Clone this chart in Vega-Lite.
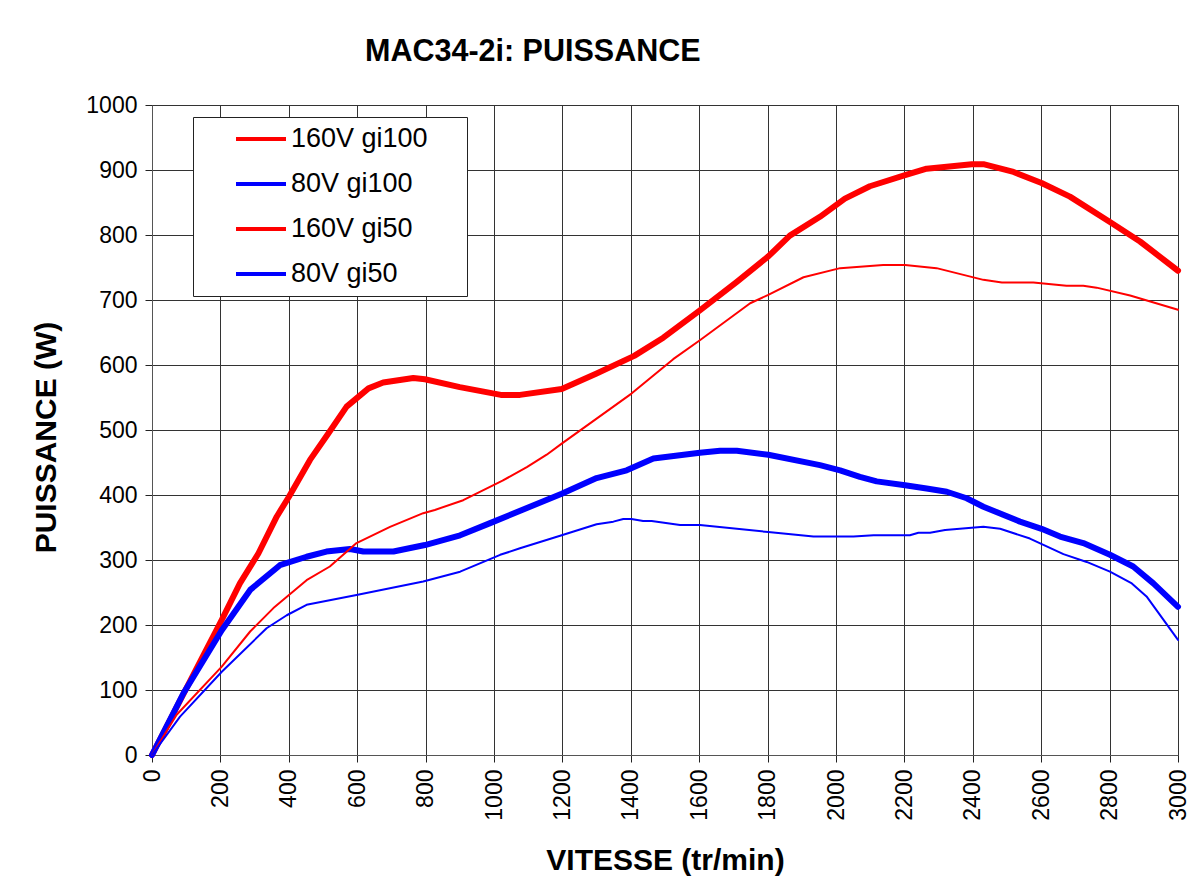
{
  "$schema": "https://vega.github.io/schema/vega-lite/v6.json",
  "width": 1026,
  "height": 650,
  "autosize": {"type": "none"},
  "padding": {"left": 152, "top": 105, "right": 17, "bottom": 135},
  "background": "white",
  "title": {
    "text": "MAC34-2i: PUISSANCE",
    "anchor": "start",
    "frame": "group",
    "dx": 213,
    "offset": 27,
    "font": "Liberation Sans",
    "fontSize": 30.5,
    "fontWeight": "bold",
    "color": "black"
  },
  "data": {
    "values": [
      {"s": "160V gi100", "v": 0, "w": 0},
      {"s": "160V gi100", "v": 140, "w": 143},
      {"s": "160V gi100", "v": 204, "w": 208},
      {"s": "160V gi100", "v": 257, "w": 264},
      {"s": "160V gi100", "v": 311, "w": 310},
      {"s": "160V gi100", "v": 365, "w": 367},
      {"s": "160V gi100", "v": 400, "w": 397},
      {"s": "160V gi100", "v": 462, "w": 454},
      {"s": "160V gi100", "v": 516, "w": 495},
      {"s": "160V gi100", "v": 569, "w": 536},
      {"s": "160V gi100", "v": 633, "w": 564},
      {"s": "160V gi100", "v": 676, "w": 573},
      {"s": "160V gi100", "v": 764, "w": 580},
      {"s": "160V gi100", "v": 798, "w": 578},
      {"s": "160V gi100", "v": 900, "w": 566},
      {"s": "160V gi100", "v": 1020, "w": 554},
      {"s": "160V gi100", "v": 1076, "w": 554},
      {"s": "160V gi100", "v": 1198, "w": 563},
      {"s": "160V gi100", "v": 1300, "w": 587},
      {"s": "160V gi100", "v": 1410, "w": 614},
      {"s": "160V gi100", "v": 1495, "w": 642},
      {"s": "160V gi100", "v": 1602, "w": 684},
      {"s": "160V gi100", "v": 1710, "w": 728},
      {"s": "160V gi100", "v": 1802, "w": 767},
      {"s": "160V gi100", "v": 1865, "w": 799},
      {"s": "160V gi100", "v": 1953, "w": 828},
      {"s": "160V gi100", "v": 2026, "w": 856},
      {"s": "160V gi100", "v": 2099, "w": 875},
      {"s": "160V gi100", "v": 2202, "w": 892},
      {"s": "160V gi100", "v": 2265, "w": 902},
      {"s": "160V gi100", "v": 2397, "w": 909},
      {"s": "160V gi100", "v": 2431, "w": 909},
      {"s": "160V gi100", "v": 2519, "w": 897},
      {"s": "160V gi100", "v": 2601, "w": 880},
      {"s": "160V gi100", "v": 2684, "w": 859},
      {"s": "160V gi100", "v": 2801, "w": 820},
      {"s": "160V gi100", "v": 2889, "w": 790},
      {"s": "160V gi100", "v": 3000, "w": 745},
      {"s": "80V gi100", "v": 0, "w": 0},
      {"s": "80V gi100", "v": 92, "w": 95},
      {"s": "80V gi100", "v": 204, "w": 192},
      {"s": "80V gi100", "v": 287, "w": 254},
      {"s": "80V gi100", "v": 374, "w": 292},
      {"s": "80V gi100", "v": 452, "w": 305},
      {"s": "80V gi100", "v": 510, "w": 313},
      {"s": "80V gi100", "v": 579, "w": 317},
      {"s": "80V gi100", "v": 618, "w": 313},
      {"s": "80V gi100", "v": 706, "w": 313},
      {"s": "80V gi100", "v": 798, "w": 323},
      {"s": "80V gi100", "v": 901, "w": 338},
      {"s": "80V gi100", "v": 985, "w": 356},
      {"s": "80V gi100", "v": 1198, "w": 402},
      {"s": "80V gi100", "v": 1300, "w": 426},
      {"s": "80V gi100", "v": 1388, "w": 438},
      {"s": "80V gi100", "v": 1466, "w": 456},
      {"s": "80V gi100", "v": 1602, "w": 465},
      {"s": "80V gi100", "v": 1661, "w": 468},
      {"s": "80V gi100", "v": 1710, "w": 468},
      {"s": "80V gi100", "v": 1802, "w": 462},
      {"s": "80V gi100", "v": 1953, "w": 446},
      {"s": "80V gi100", "v": 2012, "w": 438},
      {"s": "80V gi100", "v": 2070, "w": 428},
      {"s": "80V gi100", "v": 2119, "w": 421},
      {"s": "80V gi100", "v": 2202, "w": 415},
      {"s": "80V gi100", "v": 2265, "w": 410},
      {"s": "80V gi100", "v": 2324, "w": 405},
      {"s": "80V gi100", "v": 2382, "w": 395},
      {"s": "80V gi100", "v": 2431, "w": 382},
      {"s": "80V gi100", "v": 2538, "w": 359},
      {"s": "80V gi100", "v": 2601, "w": 348},
      {"s": "80V gi100", "v": 2655, "w": 336},
      {"s": "80V gi100", "v": 2723, "w": 326},
      {"s": "80V gi100", "v": 2801, "w": 308},
      {"s": "80V gi100", "v": 2869, "w": 290},
      {"s": "80V gi100", "v": 2928, "w": 264},
      {"s": "80V gi100", "v": 3000, "w": 228},
      {"s": "160V gi50", "v": 0, "w": 0},
      {"s": "160V gi50", "v": 72, "w": 62},
      {"s": "160V gi50", "v": 204, "w": 136},
      {"s": "160V gi50", "v": 287, "w": 190},
      {"s": "160V gi50", "v": 355, "w": 226},
      {"s": "160V gi50", "v": 452, "w": 269},
      {"s": "160V gi50", "v": 520, "w": 290},
      {"s": "160V gi50", "v": 598, "w": 326},
      {"s": "160V gi50", "v": 696, "w": 351},
      {"s": "160V gi50", "v": 793, "w": 372},
      {"s": "160V gi50", "v": 827, "w": 377},
      {"s": "160V gi50", "v": 910, "w": 392},
      {"s": "160V gi50", "v": 1025, "w": 422},
      {"s": "160V gi50", "v": 1096, "w": 443},
      {"s": "160V gi50", "v": 1154, "w": 462},
      {"s": "160V gi50", "v": 1198, "w": 479},
      {"s": "160V gi50", "v": 1402, "w": 556},
      {"s": "160V gi50", "v": 1524, "w": 609},
      {"s": "160V gi50", "v": 1602, "w": 638},
      {"s": "160V gi50", "v": 1749, "w": 695},
      {"s": "160V gi50", "v": 1802, "w": 708},
      {"s": "160V gi50", "v": 1905, "w": 735},
      {"s": "160V gi50", "v": 2012, "w": 749},
      {"s": "160V gi50", "v": 2138, "w": 754},
      {"s": "160V gi50", "v": 2202, "w": 754},
      {"s": "160V gi50", "v": 2294, "w": 749},
      {"s": "160V gi50", "v": 2431, "w": 731},
      {"s": "160V gi50", "v": 2485, "w": 727},
      {"s": "160V gi50", "v": 2577, "w": 727},
      {"s": "160V gi50", "v": 2674, "w": 722},
      {"s": "160V gi50", "v": 2723, "w": 722},
      {"s": "160V gi50", "v": 2762, "w": 719},
      {"s": "160V gi50", "v": 2860, "w": 707},
      {"s": "160V gi50", "v": 3000, "w": 685},
      {"s": "80V gi50", "v": 0, "w": 0},
      {"s": "80V gi50", "v": 82, "w": 59},
      {"s": "80V gi50", "v": 204, "w": 128},
      {"s": "80V gi50", "v": 335, "w": 195},
      {"s": "80V gi50", "v": 394, "w": 215},
      {"s": "80V gi50", "v": 452, "w": 231},
      {"s": "80V gi50", "v": 598, "w": 246},
      {"s": "80V gi50", "v": 793, "w": 267},
      {"s": "80V gi50", "v": 901, "w": 282},
      {"s": "80V gi50", "v": 1018, "w": 308},
      {"s": "80V gi50", "v": 1076, "w": 318},
      {"s": "80V gi50", "v": 1198, "w": 338},
      {"s": "80V gi50", "v": 1300, "w": 355},
      {"s": "80V gi50", "v": 1349, "w": 359},
      {"s": "80V gi50", "v": 1378, "w": 363},
      {"s": "80V gi50", "v": 1402, "w": 363},
      {"s": "80V gi50", "v": 1436, "w": 360},
      {"s": "80V gi50", "v": 1461, "w": 360},
      {"s": "80V gi50", "v": 1544, "w": 354},
      {"s": "80V gi50", "v": 1602, "w": 354},
      {"s": "80V gi50", "v": 1802, "w": 343},
      {"s": "80V gi50", "v": 1934, "w": 336},
      {"s": "80V gi50", "v": 2051, "w": 336},
      {"s": "80V gi50", "v": 2110, "w": 338},
      {"s": "80V gi50", "v": 2216, "w": 338},
      {"s": "80V gi50", "v": 2241, "w": 342},
      {"s": "80V gi50", "v": 2275, "w": 342},
      {"s": "80V gi50", "v": 2319, "w": 346},
      {"s": "80V gi50", "v": 2431, "w": 351},
      {"s": "80V gi50", "v": 2480, "w": 348},
      {"s": "80V gi50", "v": 2567, "w": 333},
      {"s": "80V gi50", "v": 2665, "w": 309},
      {"s": "80V gi50", "v": 2733, "w": 297},
      {"s": "80V gi50", "v": 2801, "w": 282},
      {"s": "80V gi50", "v": 2865, "w": 264},
      {"s": "80V gi50", "v": 2908, "w": 244},
      {"s": "80V gi50", "v": 3000, "w": 177}
    ]
  },
  "mark": {"type": "line", "strokeCap": "round", "strokeJoin": "round"},
  "encoding": {
    "x": {
      "field": "v",
      "type": "quantitative",
      "scale": {"domain": [0, 3000], "nice": false},
      "axis": {
        "values": [0, 200, 400, 600, 800, 1000, 1200, 1400, 1600, 1800, 2000, 2200, 2400, 2600, 2800, 3000],
        "format": "d",
        "title": "VITESSE (tr/min)",
        "labelAngle": 270,
        "labelFont": "Liberation Sans",
        "labelFontSize": 23,
        "labelColor": "black",
        "labelPadding": 7,
        "labelOverlap": false,
        "labelFlush": false,
        "tickSize": 7,
        "tickColor": "#222",
        "domainColor": "#555",
        "gridColor": "#333",
        "gridWidth": 1,
        "titleFont": "Liberation Sans",
        "titleFontSize": 30,
        "titleFontWeight": "bold",
        "titleColor": "black",
        "titleX": 513,
        "titleY": 105,
        "titleBaseline": "middle",
        "titleAlign": "center"
      }
    },
    "y": {
      "field": "w",
      "type": "quantitative",
      "scale": {"domain": [0, 1000], "nice": false},
      "axis": {
        "values": [0, 100, 200, 300, 400, 500, 600, 700, 800, 900, 1000],
        "format": "d",
        "title": "PUISSANCE (W)",
        "labelFont": "Liberation Sans",
        "labelFontSize": 23,
        "labelColor": "black",
        "labelPadding": 8,
        "labelOverlap": false,
        "labelFlush": false,
        "tickSize": 7,
        "tickColor": "#222",
        "domainColor": "#555",
        "gridColor": "#333",
        "gridWidth": 1,
        "titleFont": "Liberation Sans",
        "titleFontSize": 30,
        "titleFontWeight": "bold",
        "titleColor": "black",
        "titleAngle": 270,
        "titleX": -106,
        "titleY": 332,
        "titleBaseline": "middle",
        "titleAlign": "center"
      }
    },
    "color": {
      "field": "s",
      "type": "nominal",
      "scale": {
        "domain": ["160V gi100", "80V gi100", "160V gi50", "80V gi50"],
        "range": ["#FF0000", "#0000FF", "#FF0000", "#0000FF"]
      },
      "legend": {
        "title": null,
        "orient": "none",
        "legendX": 41,
        "legendY": 12,
        "direction": "vertical",
        "fillColor": "white",
        "strokeColor": "#222",
        "padding": 9,
        "symbolType": "stroke",
        "symbolSize": 2500,
        "symbolStrokeWidth": 4,
        "symbolOffset": 32,
        "clipHeight": 26,
        "rowPadding": 18,
        "labelOffset": 3,
        "labelFont": "Liberation Sans",
        "labelFontSize": 27,
        "labelColor": "black",
        "labelLimit": 400,
        "labelExpr": "datum.label + '    \u200b'"
      }
    },
    "strokeWidth": {
      "condition": {"test": "indexof(datum.s, 'gi50') >= 0", "value": 2},
      "value": 6
    }
  },
  "config": {
    "view": {"stroke": "#444", "strokeWidth": 1}
  }
}
